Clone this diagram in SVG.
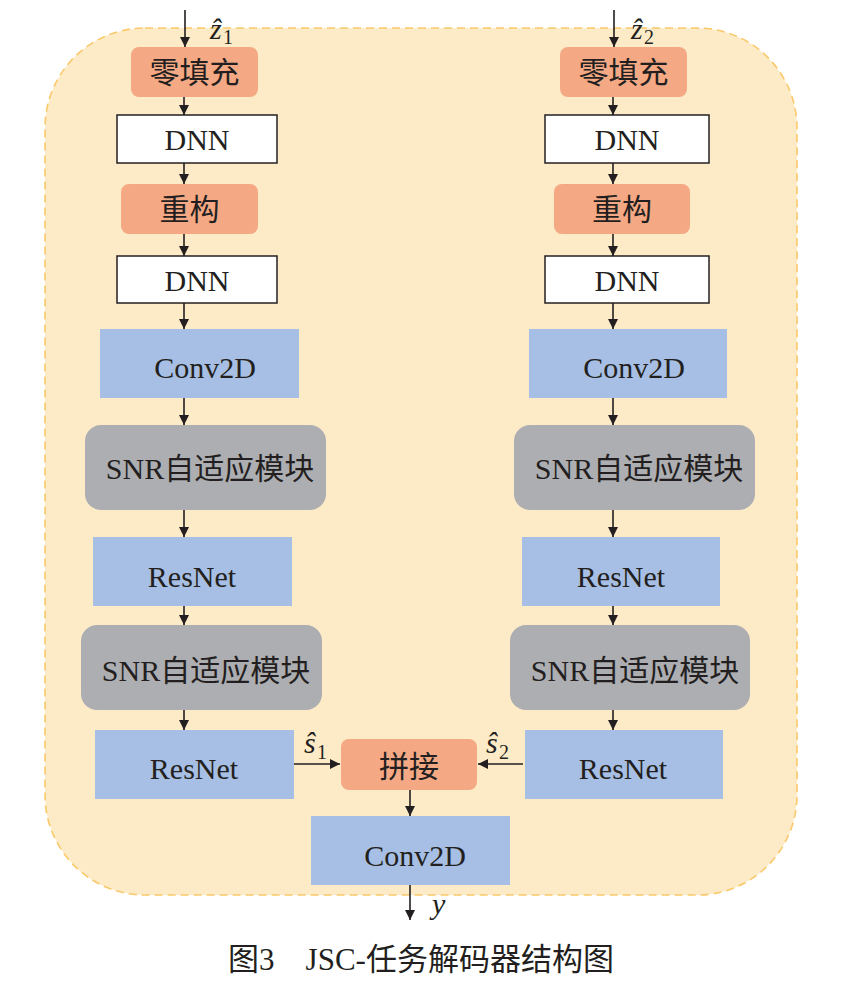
<svg xmlns="http://www.w3.org/2000/svg" width="843" height="989" viewBox="0 0 843 989">
<defs>
<marker id="ah" viewBox="0 0 10 10" refX="10" refY="5" markerWidth="10" markerHeight="10" markerUnits="userSpaceOnUse" orient="auto">
<path d="M0,0 L10,5 L0,10 z" fill="#231f20"/>
</marker>
<style>
.t{font-family:"Liberation Serif","Noto Sans CJK SC",serif;font-size:30px;fill:#231f20;text-anchor:middle;dominant-baseline:central}
.org{fill:#F4A984}
.wht{fill:#fff;stroke:#231f20;stroke-width:1.5}
.blu{fill:#A7BFE4}
.gry{fill:#ADAEB2}
.c line{stroke:#231f20;stroke-width:1.6;marker-end:url(#ah)}
.m{font-family:"Liberation Serif","DejaVu Serif",serif;font-style:italic;font-size:30px;fill:#231f20}
.sub{font-family:"Liberation Serif",serif;font-size:20px;fill:#231f20}
</style>
</defs>
<rect width="843" height="989" fill="#fff"/>
<rect id="container" x="45" y="28" width="752" height="867" rx="100" ry="100" fill="#FDEBC8" stroke="#F9C96A" stroke-width="1.6" stroke-dasharray="8,5"/>

<g id="l_pad"><rect class="org" x="131" y="47" width="127" height="50" rx="8"/><text class="t" x="194.5" y="72">零填充</text></g>
<g id="l_dnn1"><rect class="wht" x="117" y="115" width="160" height="48"/><text class="t" x="197" y="139">DNN</text></g>
<g id="l_rec"><rect class="org" x="121" y="184" width="137" height="50" rx="8"/><text class="t" x="189.5" y="209">重构</text></g>
<g id="l_dnn2"><rect class="wht" x="117" y="256" width="160" height="47"/><text class="t" x="197" y="280">DNN</text></g>
<g id="l_conv"><rect class="blu" x="100" y="329" width="199" height="69"/><text class="t" x="205" y="367">Conv2D</text></g>
<g id="l_snr1"><rect class="gry" x="85" y="425" width="241" height="85" rx="16"/><text class="t" x="210" y="468">SNR自适应模块</text></g>
<g id="l_res1"><rect class="blu" x="93" y="537" width="199" height="69"/><text class="t" x="192" y="576">ResNet</text></g>
<g id="l_snr2"><rect class="gry" x="81" y="625" width="241" height="85" rx="16"/><text class="t" x="206" y="670">SNR自适应模块</text></g>
<g id="l_res2"><rect class="blu" x="95" y="730" width="199" height="69"/><text class="t" x="194" y="768">ResNet</text></g>

<g id="r_pad"><rect class="org" x="560" y="47" width="127" height="50" rx="8"/><text class="t" x="623.5" y="72">零填充</text></g>
<g id="r_dnn1"><rect class="wht" x="545" y="115" width="164" height="48"/><text class="t" x="627" y="139">DNN</text></g>
<g id="r_rec"><rect class="org" x="554" y="184" width="136" height="50" rx="8"/><text class="t" x="622" y="209">重构</text></g>
<g id="r_dnn2"><rect class="wht" x="545" y="256" width="164" height="47"/><text class="t" x="627" y="280">DNN</text></g>
<g id="r_conv"><rect class="blu" x="529" y="329" width="198" height="69"/><text class="t" x="634" y="367">Conv2D</text></g>
<g id="r_snr1"><rect class="gry" x="514" y="425" width="241" height="85" rx="16"/><text class="t" x="639" y="468">SNR自适应模块</text></g>
<g id="r_res1"><rect class="blu" x="522" y="537" width="198" height="69"/><text class="t" x="621" y="576">ResNet</text></g>
<g id="r_snr2"><rect class="gry" x="510" y="625" width="240" height="85" rx="16"/><text class="t" x="635" y="670">SNR自适应模块</text></g>
<g id="r_res2"><rect class="blu" x="525" y="730" width="198" height="69"/><text class="t" x="623" y="768">ResNet</text></g>

<g id="concat"><rect class="org" x="341" y="739" width="136" height="51" rx="8"/><text class="t" x="409" y="766">拼接</text></g>
<g id="out_conv"><rect class="blu" x="311" y="816" width="199" height="69"/><text class="t" x="415" y="855">Conv2D</text></g>

<g id="connectors" class="c">
<line x1="185" y1="10" x2="185" y2="47"/>
<line x1="184" y1="97" x2="184" y2="115"/>
<line x1="184" y1="163" x2="184" y2="184"/>
<line x1="184" y1="234" x2="184" y2="256"/>
<line x1="184" y1="303" x2="184" y2="329"/>
<line x1="184" y1="398" x2="184" y2="425"/>
<line x1="184" y1="510" x2="184" y2="537"/>
<line x1="184" y1="606" x2="184" y2="625"/>
<line x1="184" y1="710" x2="184" y2="730"/>
<line x1="614" y1="10" x2="614" y2="47"/>
<line x1="613" y1="97" x2="613" y2="115"/>
<line x1="613" y1="163" x2="613" y2="184"/>
<line x1="613" y1="234" x2="613" y2="256"/>
<line x1="613" y1="303" x2="613" y2="329"/>
<line x1="613" y1="398" x2="613" y2="425"/>
<line x1="613" y1="510" x2="613" y2="537"/>
<line x1="613" y1="606" x2="613" y2="625"/>
<line x1="613" y1="710" x2="613" y2="730"/>
<line x1="294" y1="764" x2="340" y2="764"/>
<line x1="523" y1="764" x2="478" y2="764"/>
<line x1="410" y1="790" x2="410" y2="816"/>
<line x1="410" y1="885" x2="410" y2="920"/>
</g>

<g id="labels">
<text class="m" x="210" y="39">ẑ</text><text class="sub" x="223" y="44">1</text>
<text class="m" x="631" y="39">ẑ</text><text class="sub" x="644" y="44">2</text>
<text class="m" x="304" y="753">ŝ</text><text class="sub" x="317" y="759">1</text>
<text class="m" x="486" y="753">ŝ</text><text class="sub" x="499" y="759">2</text>
<text class="m" x="432" y="914">y</text>
</g>

<text id="caption" x="421" y="970" font-family="Liberation Serif,'Noto Sans CJK SC',serif" font-size="31" fill="#231f20" text-anchor="middle">图3　JSC-任务解码器结构图</text>
</svg>
